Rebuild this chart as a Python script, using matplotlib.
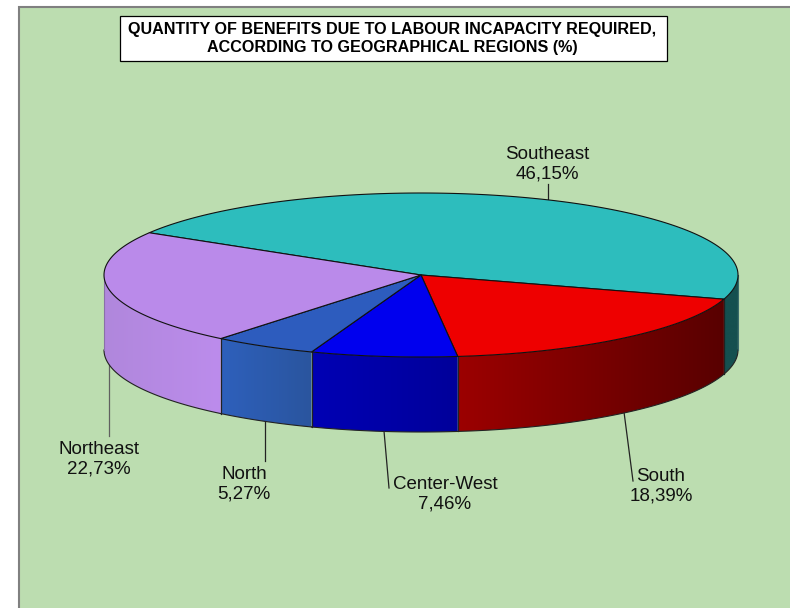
import numpy as np
import matplotlib
matplotlib.use('Agg')
import matplotlib.pyplot as plt
from matplotlib.patches import PathPatch, Rectangle
from matplotlib.path import Path
from matplotlib.colors import LinearSegmentedColormap

plt.rcParams['font.family'] = ['Liberation Sans', 'DejaVu Sans']

# === Data ===
regions = ['Southeast', 'South', 'Center-West', 'North', 'Northeast']
shares = [46.15, 18.39, 7.46, 5.27, 22.73]
share_labels = ['46,15%', '18,39%', '7,46%', '5,27%', '22,73%']
top_colors = ['#2DBDBD', '#EE0000', '#0000EE', '#2D5CBE', '#BA8AEA']
side_left = ['#155050', '#9C0000', '#0000B4', '#2E60BC', '#B087DC']
side_right = ['#155050', '#580000', '#00009A', '#2A559E', '#BC8CEC']
title = 'QUANTITY OF BENEFITS DUE TO LABOUR INCAPACITY REQUIRED,\nACCORDING TO GEOGRAPHICAL REGIONS (%)'

# pie geometry, in pixels of the picture
cx, cy = 421, 275
rx, ry = 317, 82
depth = 75
start = 149.0

fig = plt.figure(figsize=(7.9, 6.08), dpi=100, facecolor='white')
ax = fig.add_axes([0, 0, 1, 1])
ax.set_xlim(0, 790)
ax.set_ylim(608, 0)
ax.axis('off')

# background panel
ax.add_patch(Rectangle((19, 7), 790, 620, facecolor='#BCDDB0', edgecolor='#808080', lw=1.5, zorder=0))

# title box
ax.add_patch(Rectangle((119.5, 16), 547, 44.5, facecolor='white', edgecolor='black', lw=0.9, zorder=5))
ax.text(392, 38.5, title, ha='center', va='center', fontsize=11.6, fontweight='bold', linespacing=1.26, zorder=6)


def ell(a):
    a = np.radians(a)
    return cx + rx * np.cos(a), cy - ry * np.sin(a)


# wedge limits going clockwise from the start angle
edges = start - np.cumsum([0] + shares) * 3.6

# side walls, only the visible front part of the ellipse
for i in range(len(shares)):
    a0, a1 = edges[i], edges[i + 1]
    hi = min(a0, 0.0)
    lo = max(a1, -180.0)
    if hi <= lo:
        continue
    t = np.linspace(lo, hi, 120)
    x, y = ell(t)
    px = np.r_[x, x[::-1]]
    py = np.r_[y, y[::-1] + depth]
    path = Path(np.c_[px, py])
    cmap = LinearSegmentedColormap.from_list('side', [side_left[i], side_right[i]])
    g = np.linspace(0, 1, 256).reshape(1, -1)
    im = ax.imshow(g, cmap=cmap, extent=[px.min(), px.max(), py.max(), py.min()], aspect='auto', zorder=2)
    patch = PathPatch(path, facecolor='none', edgecolor='none', transform=ax.transData)
    ax.add_patch(patch)
    im.set_clip_path(patch)
    # bottom curve and the vertical seams
    ax.plot(x, y + depth, color='#222222', lw=0.8, zorder=3)
    ax.plot([x[0], x[0]], [y[0], y[0] + depth], color='#222222' if lo > -180 else '#8A70A8', lw=0.8, zorder=3)
    ax.plot([x[-1], x[-1]], [y[-1], y[-1] + depth], color='#222222' if hi < 0 else '#3A6A6A', lw=0.8, zorder=3)

ax.set_xlim(0, 790)
ax.set_ylim(608, 0)

# top face
for i in range(len(shares)):
    t = np.linspace(edges[i], edges[i + 1], 200)
    x, y = ell(t)
    ax.fill(np.r_[cx, x], np.r_[cy, y], facecolor=top_colors[i], edgecolor='#111111', lw=0.8, joinstyle='round', zorder=4)

# leader lines and labels
leaders = [
    ([548, 548], [184, 201]),
    ([624, 633], [412, 481]),
    ([384, 389], [431, 488]),
    ([265, 265], [421, 461]),
    ([109, 109], [360, 436]),
]
leader_colors = ['#222222', '#222222', '#222222', '#222222', '#606060']
label_xy = [(547, 164), (661, 486.5), (445, 494.5), (244, 484), (99, 459)]
for i, r in enumerate(regions):
    ax.plot(leaders[i][0], leaders[i][1], color=leader_colors[i], lw=0.9, zorder=1)
    ax.text(label_xy[i][0], label_xy[i][1], r + '\n' + share_labels[i], ha='center', va='center',
            fontsize=13.5, color='#111111', linespacing=1.2, zorder=6)

fig.savefig('out.png', dpi=100, facecolor=fig.get_facecolor())
